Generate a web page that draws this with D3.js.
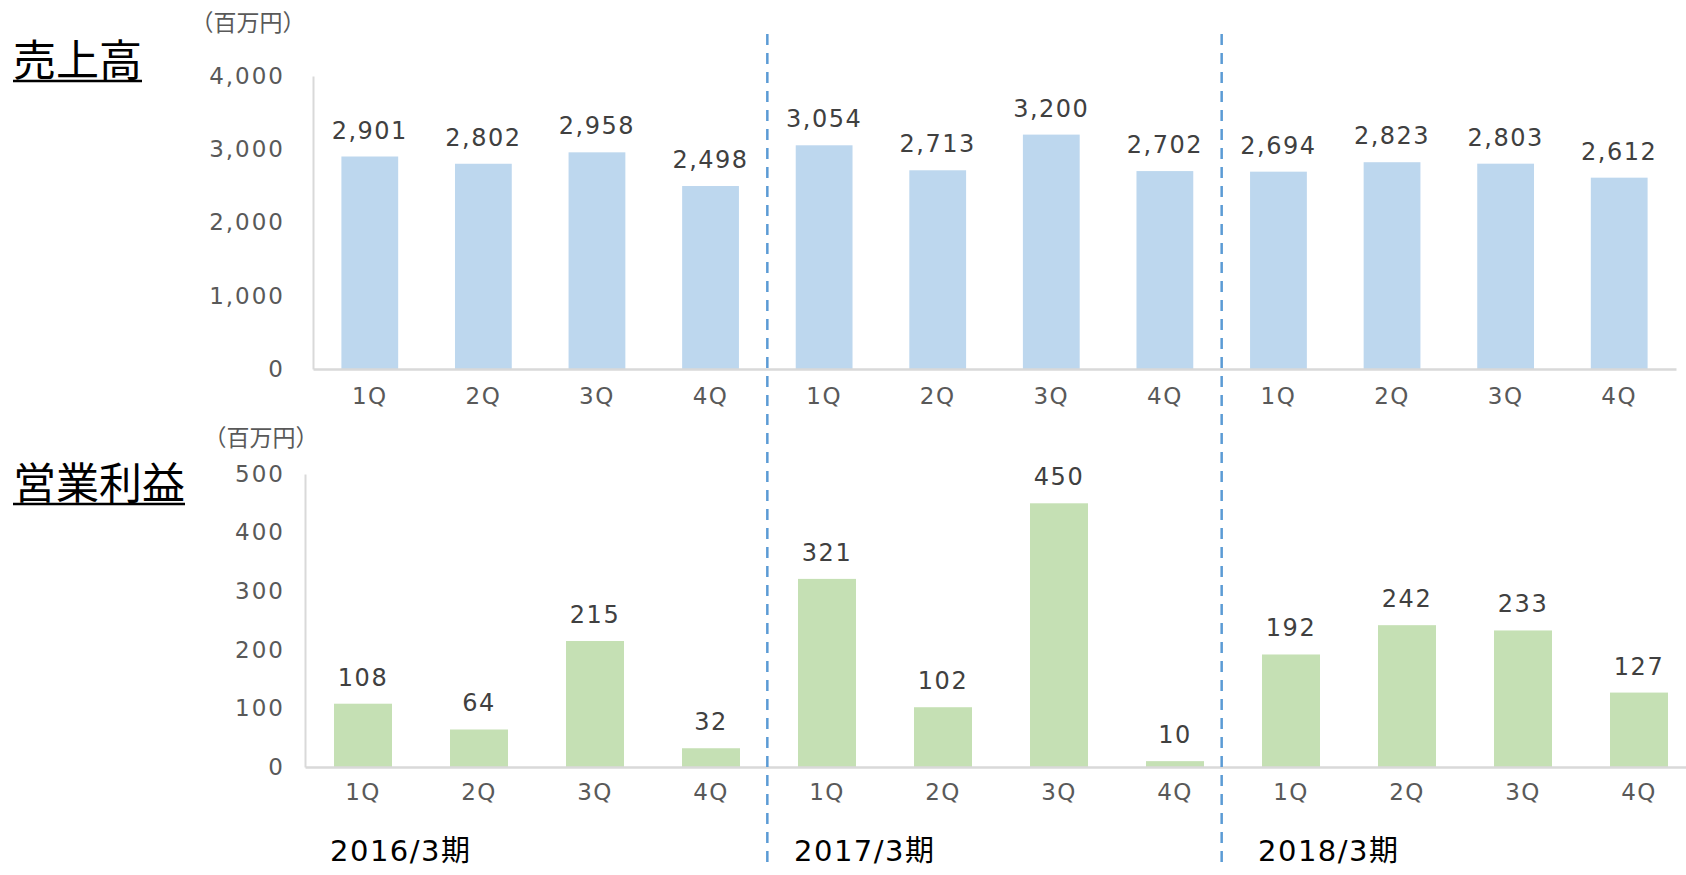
<!DOCTYPE html>
<html>
<head>
<meta charset="utf-8">
<script src="https://cdn.jsdelivr.net/npm/d3@7"></script>
<style>
  body { margin: 0; background: #fff; }
  svg { display: block; }
  .num { font-family: "DejaVu Sans", "Noto Sans CJK JP", sans-serif; }
  .jp { font-family: "Noto Sans CJK JP", sans-serif; }
</style>
</head>
<body>
<div id="chart"></div>
<script>
// quarterly results, 3 fiscal years
const periods = ["2016/3期", "2017/3期", "2018/3期"];
const quarterLabels = ["1Q", "2Q", "3Q", "4Q", "1Q", "2Q", "3Q", "4Q", "1Q", "2Q", "3Q", "4Q"];
const sales = [2901, 2802, 2958, 2498, 3054, 2713, 3200, 2702, 2694, 2823, 2803, 2612];
const opIncome = [108, 64, 215, 32, 321, 102, 450, 10, 192, 242, 233, 127];
const salesTicks = [0, 1000, 2000, 3000, 4000];
const incomeTicks = [0, 100, 200, 300, 400, 500];

const W = 1686, H = 875;
const textGray = "#595959", axisGray = "#d9d9d9";

let svg = d3.select("#chart").append("svg")
    .attr("width", W)
    .attr("height", H);

let idx = d3.range(quarterLabels.length);
let fmt = d3.format(",");

// scales
let xTop = d3.scaleBand().domain(idx).range([313, 1676]).paddingInner(0.5).paddingOuter(0.25);
let yTop = d3.scaleLinear().domain([0, 4000]).range([369, 76]);
let xBot = d3.scaleBand().domain(idx).range([305, 1697]).paddingInner(0.5).paddingOuter(0.25);
let yBot = d3.scaleLinear().domain([0, 500]).range([767, 474]);

function drawPanel(x, y, values, ticks, color, yPad, xPad) {
    let g = svg.append("g");

    // y axis
    let ya = g.append("g")
        .attr("transform", "translate(" + x.range()[0] + ",0)")
        .call(d3.axisLeft(y).tickValues(ticks).tickFormat(fmt).tickSize(0).tickPadding(yPad));
    ya.select(".domain").attr("stroke", axisGray).attr("stroke-width", 2);
    ya.selectAll("text")
        .attr("class", "num")
        .attr("fill", textGray)
        .style("font-size", "23px")
        .style("letter-spacing", "2px");

    // bars
    g.selectAll(".bar")
        .data(values)
        .enter().append("rect")
        .attr("x", (d, i) => x(i))
        .attr("width", x.bandwidth())
        .attr("y", d => y(d))
        .attr("height", d => y(0) - y(d))
        .attr("fill", color);

    // x axis
    let xa = g.append("g")
        .attr("transform", "translate(0," + y(0) + ")")
        .call(d3.axisBottom(x).tickFormat(i => quarterLabels[i]).tickSize(0).tickSizeOuter(0).tickPadding(xPad));
    xa.select(".domain").attr("stroke", axisGray).attr("stroke-width", 2.5);
    xa.selectAll("text")
        .attr("class", "num")
        .attr("fill", textGray)
        .style("font-size", "23px")
        .style("letter-spacing", "1.5px");

    // value labels
    g.selectAll(".val")
        .data(values)
        .enter().append("text")
        .attr("class", "num")
        .attr("x", (d, i) => x(i) + x.bandwidth() / 2)
        .attr("y", d => y(d) - 18)
        .attr("text-anchor", "middle")
        .attr("fill", "#404040")
        .style("font-size", "24px")
        .style("letter-spacing", "1.5px")
        .text(d => fmt(d));
}

drawPanel(xTop, yTop, sales, salesTicks, "#bdd7ee", 28, 19);
drawPanel(xBot, yBot, opIncome, incomeTicks, "#c5e0b4", 20, 17);

// titles with underline
function title(txt, x, y) {
    let t = svg.append("text")
        .attr("class", "jp")
        .attr("x", x)
        .attr("y", y)
        .attr("fill", "#000")
        .style("font-size", "43px")
        .text(txt);
    let w = t.node().getComputedTextLength();
    svg.append("line")
        .attr("x1", x).attr("x2", x + w)
        .attr("y1", y + 5).attr("y2", y + 5)
        .attr("stroke", "#000")
        .attr("stroke-width", 2.5);
}
title("売上高", 13, 76);
title("営業利益", 13, 499);

// unit labels
svg.append("text").attr("class", "jp")
    .attr("x", 248).attr("y", 31)
    .attr("text-anchor", "middle")
    .attr("fill", textGray)
    .style("font-size", "23px")
    .text("（百万円）");
svg.append("text").attr("class", "jp")
    .attr("x", 261).attr("y", 446)
    .attr("text-anchor", "middle")
    .attr("fill", textGray)
    .style("font-size", "23px")
    .text("（百万円）");

// period separators
[4, 8].forEach(function(i) {
    let sx = (xTop(i - 1) + xTop.bandwidth() + xTop(i)) / 2;
    svg.append("line")
        .attr("x1", sx).attr("x2", sx)
        .attr("y1", 34).attr("y2", 867)
        .attr("stroke", "#5b9bd5")
        .attr("stroke-width", 2.5)
        .attr("stroke-dasharray", "11,8");
});

// period labels under each group
svg.selectAll(".period")
    .data(periods)
    .enter().append("text")
    .attr("class", "num")
    .attr("x", (d, i) => xBot(i * 4) - 4)
    .attr("y", 861)
    .attr("fill", "#000")
    .style("font-size", "29px")
    .style("letter-spacing", "1.5px")
    .text(d => d);
</script>
</body>
</html>
